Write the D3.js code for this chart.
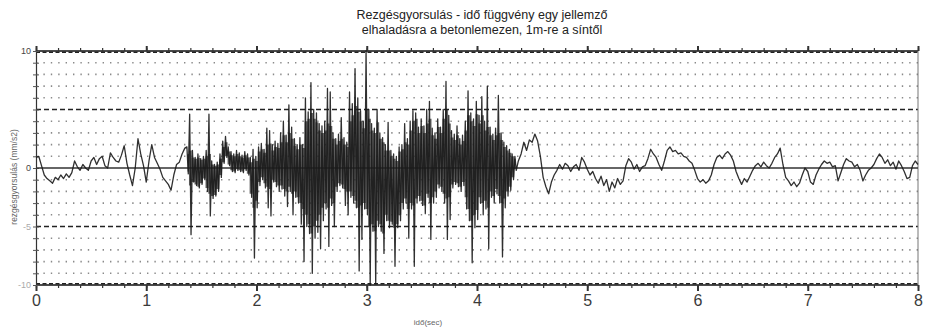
<!DOCTYPE html>
<html><head><meta charset="utf-8">
<script src="https://cdn.jsdelivr.net/npm/d3@7/dist/d3.min.js"></script>
<style>
html,body{margin:0;padding:0;background:#fff;}
svg{display:block;font-family:"Liberation Sans",Arial,sans-serif;}
</style></head>
<body>
<svg id="chart" width="925" height="329"></svg>
<script>
// ---- data ----
const titleLines = ["Rezgésgyorsulás - idő függvény egy jellemző", "elhaladásra a betonlemezen, 1m-re a síntől"];
const xLabel = "idő(sec)";
const yLabel = "rezgésgyorsulás (mm/s2)";
const xTickValues = [0, 1, 2, 3, 4, 5, 6, 7, 8];
const yTickValues = [10, 0, -5, -10];
const yTickLabels = ["10", "0", "-5", "-10"];
const sampleStep = 0.025; // s

// quiet part before the passage: 0 .. 1.35 s
const quietAStart = 0;
const quietA = [0.9, 1.0, 0.2, -0.6, -0.9, -1.1, -1.3, -0.8, -1.0, -0.6, -0.9, -0.5, -0.8, -0.4,
  0.6, 0.1, -0.2, 0.3, 0.0, -0.2, 0.6, 0.9, 0.3, 0.8, 1.0, 0.2, 0.0, 1.3, 0.9, 0.6, 0.5, 1.1,
  1.9, 0.4, -0.6, -1.5, 0.0, 2.5, 1.2, 0.2, -1.2, 0.6, 2.0, 0.9, 0.4, -0.1, -0.8, -1.1, -1.4,
  -1.9, -0.6, 0.3, 0.5, 1.2, 1.7];

// train passage, per 0.025 s, 1.375 .. 4.35 s
// peak envelope (thin spikes)
const burstStart = 1.375;
const burstHi = [1.8, 4.6, 1.5, 0.9, 1.2, 0.8, 1.0, 1.5, 4.6, 0.6, 0.3, 0.5, 1.2, 2.3, 2.7, 1.8,
  1.4, 1.2, 1.5, 1.3, 1.1, 1.4, 1.2, 0.9, 1.6, 1.0, 1.8, 2.1, 1.6, 3.4, 3.2, 2.0, 2.3, 2.1, 3.0,
  4.0, 2.8, 5.4, 3.5, 2.5, 2.0, 2.6, 2.0, 6.0, 4.8, 7.3, 5.0, 4.7, 3.8, 3.6, 4.0, 6.8, 6.5, 3.0,
  2.5, 2.9, 4.3, 2.6, 2.2, 6.5, 5.5, 8.5, 6.0, 4.9, 4.0, 10.0, 5.0, 3.8, 3.4, 5.0, 3.0, 2.6, 2.0,
  3.9, 1.5, 1.2, 1.0, 1.8, 2.0, 3.8, 2.5, 4.0, 4.9, 4.7, 3.5, 4.2, 3.6, 5.0, 5.7, 3.4, 3.0, 4.2,
  3.5, 5.0, 7.4, 4.5, 3.2, 2.9, 3.6, 2.5, 2.8, 4.0, 6.6, 4.7, 4.2, 5.7, 4.5, 6.1, 4.0, 7.0, 3.5,
  2.9, 3.4, 6.2, 3.0, 2.2, 1.9, 1.6, 1.2, 1.0];
const burstLo = [-0.5, -5.7, -1.2, -1.5, -1.7, -1.4, -1.0, -2.0, -4.1, -2.6, -2.4, -2.0, -0.8, 0.4,
  0.9, 0.2, -0.3, -0.4, -0.2, -0.3, -0.4, -0.2, -0.6, -2.5, -7.7, -3.4, -1.5, -1.0, -1.7, -3.4,
  -4.1, -1.2, -1.6, -2.0, -1.8, -2.4, -3.3, -2.0, -4.0, -2.5, -3.0, -4.8, -8.0, -5.0, -5.6, -9.0,
  -6.0, -5.5, -6.9, -4.5, -3.5, -6.7, -3.2, -5.0, -2.0, -1.5, -1.7, -3.2, -4.0, -2.5, -3.0, -3.4,
  -8.8, -6.1, -3.5, -4.0, -10.0, -5.4, -9.9, -5.0, -5.4, -7.3, -4.5, -5.1, -4.8, -8.4, -5.1, -4.5,
  -3.5, -3.0, -6.0, -3.5, -8.4, -3.0, -2.8, -3.2, -3.9, -2.5, -6.1, -3.0, -2.5, -1.7, -2.0, -3.0,
  -6.1, -4.4, -1.7, -1.4, -1.6, -2.0, -1.5, -3.5, -4.5, -8.1, -5.1, -4.4, -3.0, -4.0, -3.5, -6.9,
  -2.5, -3.0, -2.2, -3.0, -7.6, -3.4, -2.4, -1.9, -1.0, -0.2];
// dense dark body of the record
const bodyHi = [1.2, 1.5, 0.9, 0.8, 0.9, 0.7, 0.8, 1.0, 1.2, 0.3, 0.2, 0.3, 0.8, 1.8, 2.2, 1.4,
  1.1, 1.0, 1.2, 1.0, 0.9, 1.1, 0.9, 0.5, 0.8, 0.6, 1.4, 1.6, 1.3, 2.0, 2.1, 1.5, 1.8, 1.7, 2.2,
  2.8, 2.2, 3.0, 2.5, 1.9, 1.6, 2.0, 1.7, 4.0, 4.2, 4.7, 4.2, 3.9, 3.2, 3.0, 3.2, 3.8, 3.6, 2.5,
  2.0, 2.3, 2.5, 2.0, 1.8, 4.0, 4.5, 5.3, 4.8, 4.0, 3.4, 5.0, 4.2, 3.2, 3.0, 3.9, 2.5, 2.2, 1.5,
  1.5, 1.0, 0.8, 0.6, 1.4, 1.6, 2.2, 2.0, 3.2, 4.0, 4.2, 3.0, 3.6, 3.0, 3.8, 4.2, 2.8, 2.5, 3.5,
  3.0, 4.2, 5.0, 3.8, 2.6, 2.4, 2.8, 2.0, 2.3, 3.2, 4.5, 4.0, 3.6, 4.6, 3.8, 4.5, 3.2, 3.5, 2.8,
  2.4, 2.8, 3.0, 2.4, 1.8, 1.5, 1.3, 1.0, 0.8];
const bodyLo = [-0.3, -1.5, -1.2, -1.4, -1.6, -1.3, -0.9, -1.7, -2.2, -2.4, -2.3, -1.8, -0.6, 0.5,
  1.0, 0.3, -0.2, -0.3, -0.1, -0.2, -0.3, -0.1, -0.5, -2.2, -3.4, -2.8, -1.2, -0.8, -1.3, -1.6,
  -1.8, -1.0, -1.2, -1.5, -1.5, -1.8, -2.0, -1.6, -2.2, -2.0, -2.5, -3.0, -3.5, -4.0, -4.8, -5.6,
  -5.0, -4.5, -4.0, -3.4, -3.0, -3.4, -2.6, -3.0, -1.6, -1.3, -1.4, -1.8, -2.0, -2.0, -2.4, -2.8,
  -3.4, -3.2, -3.0, -3.5, -5.0, -4.8, -5.4, -4.5, -4.8, -5.6, -4.0, -4.5, -4.6, -5.1, -4.8, -4.0,
  -3.0, -2.6, -3.5, -3.0, -3.2, -2.6, -2.4, -2.8, -3.2, -2.2, -3.0, -2.5, -2.0, -1.4, -1.6, -2.2,
  -2.6, -2.5, -1.4, -1.2, -1.3, -1.6, -1.2, -2.5, -3.5, -4.5, -4.0, -3.6, -2.5, -3.0, -2.8, -3.4,
  -2.0, -2.4, -1.8, -2.4, -3.0, -2.6, -2.0, -1.6, -0.8, -0.1];

// quiet part after the passage: 4.375 .. 8 s
const quietBStart = 4.375;
const quietB = [0.6, 1.2, 2.2, 1.5, 2.4, 2.2, 2.9, 2.3, 1.0, -0.8, -1.6, -2.2, -1.2, -0.6, -0.2,
  0.3, -0.1, 0.4, 0.2, -0.3, 0.1, 0.3, -0.2, 0.9, 0.5, -0.1, -0.6, -0.3, -0.9, -1.3, -0.7, -1.5,
  -1.0, -2.0, -1.2, -1.7, -0.9, -1.4, -1.1, 0.2, 0.8, 0.5, -0.1, 0.3, -0.3, 0.1, 0.2, 0.8, 1.6,
  1.2, 0.9, 0.3, -0.2, 0.6, 1.5, 1.8, 1.4, 1.5, 1.2, 1.3, 1.0, 0.9, 0.6, 0.4, -0.2, -0.9, -1.2,
  -1.0, -1.3, -1.1, -0.6, 0.3, 0.9, 1.1, 0.8, 1.2, 1.4, 1.1, 0.6, -0.3, -0.9, -1.4, -0.9, -1.2,
  -0.7, -0.2, 0.2, 0.4, 0.1, 0.5, 0.2, 0.0, 0.4, 0.9, 1.2, 1.7, 0.3, -0.8, -1.1, -1.5, -1.2, -1.6,
  -1.3, -0.6, 0.0, -0.3, -1.2, -1.4, -0.6, -0.1, 0.3, 0.6, 0.4, 0.5, 0.1, 0.2, -1.1, -0.4, 0.3,
  0.8, 0.6, 0.5, 0.1, 0.3, -0.2, -1.1, -0.6, -0.2, 0.0, 0.3, 0.8, 1.2, 0.9, 0.4, 0.7, 0.2, 0.5,
  -0.1, 0.6, 0.2, -0.3, -0.9, -0.8, 0.2, 0.6, 0.3];

// ---- drawing ----
const svg = d3.select("#chart");
const x = d3.scaleLinear().domain([0, 8]).range([36, 918]);
const y = d3.scaleLinear().domain([-10, 10]).range([285, 51]);

// title
const title = svg.append("text").attr("x", 482).attr("text-anchor", "middle")
  .attr("font-size", 12.5).attr("fill", "#222");
title.selectAll("tspan").data(titleLines).join("tspan")
  .attr("x", 482).attr("y", (d, i) => 19 + i * 15).text(d => d);

// grid lines
const gridVals = d3.range(-9, 10).filter(v => v !== 0 && Math.abs(v) !== 5);
svg.append("g").selectAll("line").data(gridVals).join("line")
  .attr("x1", x(0)).attr("x2", x(8)).attr("y1", d => y(d)).attr("y2", d => y(d))
  .attr("stroke", "#8a8a8a").attr("stroke-width", 1.6).attr("stroke-dasharray", "1.4,6");
svg.append("g").selectAll("line").data([5, -5]).join("line")
  .attr("x1", x(0)).attr("x2", x(8)).attr("y1", d => y(d)).attr("y2", d => y(d))
  .attr("stroke", "#222").attr("stroke-width", 1.4).attr("stroke-dasharray", "5,3");

// frame lines top / bottom
[10, -10].forEach(v => {
  svg.append("line").attr("x1", x(0)).attr("x2", x(8)).attr("y1", y(v)).attr("y2", y(v))
    .attr("stroke", "#111").attr("stroke-width", 1.3);
  svg.append("line").attr("x1", x(0)).attr("x2", x(8)).attr("y1", y(v) + (v > 0 ? 1.2 : -1.2)).attr("y2", y(v) + (v > 0 ? 1.2 : -1.2))
    .attr("stroke", "#222").attr("stroke-width", 1.6).attr("stroke-dasharray", "4,2.5");
});
// right border
svg.append("line").attr("x1", x(8)).attr("x2", x(8)).attr("y1", y(10)).attr("y2", y(-10))
  .attr("stroke", "#777").attr("stroke-width", 1);

// top / bottom axis ticks
const minorTicks = d3.range(0, 8.0001, 0.2);
const gTop = svg.append("g").attr("transform", `translate(0,${y(10)})`)
  .call(d3.axisTop(x).tickValues(minorTicks).tickSize(3).tickFormat(""));
const gTopMaj = svg.append("g").attr("transform", `translate(0,${y(10)})`)
  .call(d3.axisTop(x).tickValues(xTickValues).tickSize(5).tickFormat(""));
const gBot = svg.append("g").attr("transform", `translate(0,${y(-10)})`)
  .call(d3.axisBottom(x).tickValues(minorTicks).tickSize(3).tickFormat(""));
const gBotMaj = svg.append("g").attr("transform", `translate(0,${y(-10)})`)
  .call(d3.axisBottom(x).tickValues(xTickValues).tickSize(6).tickPadding(4).tickFormat(d3.format("d")));
[gTop, gTopMaj, gBot, gBotMaj].forEach(g => {
  g.select(".domain").remove();
  g.selectAll(".tick line").attr("stroke", "#333").attr("stroke-width", 1.2);
});
gTopMaj.selectAll(".tick line").attr("stroke-width", 2);
gBotMaj.selectAll(".tick line").attr("stroke-width", 2);
gBotMaj.selectAll(".tick text").attr("font-size", 16).attr("fill", "#3a3a3a")
  .attr("font-family", "'Liberation Sans', Arial, sans-serif");

// left axis
const gLeft = svg.append("g").attr("transform", `translate(${x(0)},0)`)
  .call(d3.axisLeft(y).tickValues(d3.range(-10, 11)).tickSize(3).tickPadding(2)
    .tickFormat(d => { const k = yTickValues.indexOf(d); return k >= 0 ? yTickLabels[k] : ""; }));
gLeft.select(".domain").attr("stroke", "#333").attr("stroke-width", 1.2);
gLeft.selectAll(".tick line").attr("stroke", "#555").attr("x2", 3).attr("x1", -3);
gLeft.selectAll(".tick text").attr("font-size", 9)
  .attr("fill", d => (d < 0 ? "#aaa" : "#444"))
  .attr("font-family", "'Liberation Sans', Arial, sans-serif");

// zero line
svg.append("line").attr("x1", x(0)).attr("x2", x(8)).attr("y1", y(0)).attr("y2", y(0))
  .attr("stroke", "#333").attr("stroke-width", 1.4);

// dense body of the passage
const bodyData = bodyHi.map((h, i) => ({ t: burstStart + i * sampleStep, hi: h, lo: bodyLo[i] }));
const area = d3.area().x(d => x(d.t)).y0(d => y(d.lo)).y1(d => y(d.hi)).curve(d3.curveStep);
svg.append("path").attr("d", area(bodyData)).attr("fill", "#2b2b2b").attr("fill-opacity", 0.72);

// signal
const pts = [];
quietA.forEach((v, i) => pts.push([quietAStart + i * sampleStep, v]));
burstHi.forEach((h, i) => {
  const t = burstStart + i * sampleStep;
  pts.push([t - sampleStep / 4, h]);
  pts.push([t + sampleStep / 4, burstLo[i]]);
});
quietB.forEach((v, i) => pts.push([quietBStart + i * sampleStep, v]));
const line = d3.line().x(d => x(d[0])).y(d => y(d[1]));
svg.append("path").attr("d", line(pts)).attr("fill", "none")
  .attr("stroke", "#1a1a1a").attr("stroke-width", 1.3).attr("stroke-linejoin", "round")
  .attr("stroke-opacity", 0.9);

// axis titles
svg.append("text").attr("x", 428).attr("y", 325).attr("text-anchor", "middle")
  .attr("font-size", 8).attr("fill", "#666").text(xLabel);
svg.append("text").attr("transform", "translate(17,177) rotate(-90)").attr("text-anchor", "middle")
  .attr("font-size", 8.5).attr("fill", "#666").text(yLabel);
</script>
</body></html>
